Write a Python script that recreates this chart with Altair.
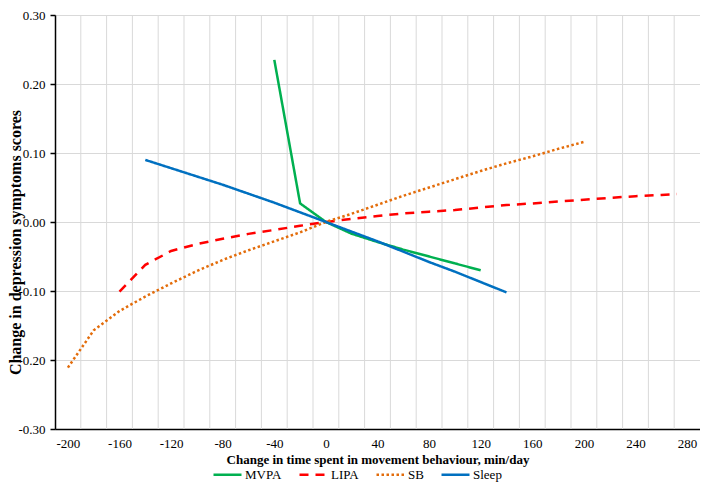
import altair as alt
import pandas as pd

# ---- data ----
series_names = ["MVPA", "LIPA", "SB", "Sleep"]

mvpa_x = [-40, -20, 0, 20, 40, 60, 80, 100, 120]
mvpa_y = [0.235, 0.027, 0.0, -0.017, -0.029, -0.040, -0.050, -0.060, -0.070]

lipa_x = [-160, -140, -120, -100, -80, -60, -40, -20, 0, 20, 40, 60, 80, 100,
          120, 140, 160, 180, 200, 220, 240, 260, 272]
lipa_y = [-0.101, -0.062, -0.042, -0.032, -0.0244, -0.0172, -0.0115, -0.0055, 0.0,
          0.0046, 0.0087, 0.0125, 0.015, 0.0173, 0.021, 0.0245, 0.0269, 0.0297,
          0.0323, 0.035, 0.0374, 0.0393, 0.0405]

sb_x = [-200, -180, -160, -140, -120, -100, -80, -60, -40, -20, 0, 20, 40, 60,
        80, 100, 120, 140, 160, 180, 200]
sb_y = [-0.211, -0.157, -0.129, -0.108, -0.089, -0.071, -0.055, -0.041, -0.028,
        -0.015, 0.0, 0.012, 0.025, 0.038, 0.050, 0.062, 0.074, 0.085, 0.095,
        0.106, 0.116]

sleep_x = [-140, -120, -100, -80, -60, -40, -20, 0, 20, 40, 60, 80, 100, 120, 140]
sleep_y = [0.090, 0.078, 0.066, 0.054, 0.041, 0.028, 0.014, 0.0, -0.014, -0.028,
           -0.043, -0.058, -0.072, -0.087, -0.102]

x_tick_labels = [-200, -160, -120, -80, -40, 0, 40, 80, 120, 160, 200, 240, 280]
x_grid = [-190, -170, -150, -130, -110, -90, -70, -50, -30, -10, 10, 30, 50, 70,
          90, 110, 130, 150, 170, 190, 210, 230, 250, 270]
y_ticks = [-0.3, -0.2, -0.1, 0.0, 0.1, 0.2, 0.3]

colors = ["#00B050", "#FF0000", "#E36C0A", "#0070C0"]
dashes = [[1, 0], [9, 7], [2.5, 2.5], [1, 0]]

rows = []
for name, xs, ys in [("MVPA", mvpa_x, mvpa_y), ("LIPA", lipa_x, lipa_y),
                     ("SB", sb_x, sb_y), ("Sleep", sleep_x, sleep_y)]:
    for i, (xv, yv) in enumerate(zip(xs, ys)):
        rows.append({"series": name, "x": xv, "y": yv, "i": i})
df = pd.DataFrame(rows)

FONT = "Liberation Serif"
x_scale = alt.Scale(domain=[-210, 290], nice=False, zero=False)
y_scale = alt.Scale(domain=[-0.3, 0.3], nice=False, zero=False)

x_axis = alt.Axis(
    values=x_tick_labels, grid=False, ticks=False, tickSize=0, labelPadding=8,
    domainColor="black", domainWidth=1.5, labelFlush=False,
    labelExpr="datum.value < 0 ? '-' + format(-datum.value, 'd') : format(datum.value, 'd')",
    labelFont=FONT, labelFontSize=13, labelColor="black",
    title="Change in time spent in movement behaviour, min/day",
    titleFont=FONT, titleFontSize=13, titleFontWeight="bold", titleColor="black",
    titleY=30, titleBaseline="middle")

grid = alt.Chart(pd.DataFrame({"gx": x_grid})).mark_rule(
    color="#D9D9D9", strokeWidth=1
).encode(x=alt.X("gx:Q", scale=x_scale, axis=x_axis))

legend = alt.Legend(
    title=None, orient="none", legendX=157, legendY=444, direction="horizontal",
    symbolType="stroke", symbolSize=784, symbolStrokeWidth=2.5,
    labelFont=FONT, labelFontSize=13, labelColor="black",
    columnPadding=12, labelOffset=2,
)

lines = alt.Chart(df).mark_line(strokeWidth=2.5).encode(
    x=alt.X("x:Q", scale=x_scale, axis=x_axis),
    y=alt.Y("y:Q", scale=y_scale, axis=alt.Axis(
        values=y_ticks, grid=True, gridColor="#D9D9D9", gridWidth=1,
        labelExpr="datum.value < 0 ? '-' + format(-datum.value, '.2f') : format(datum.value, '.2f')",
        tickColor="black", tickSize=5, tickWidth=1.5, domainColor="black", domainWidth=1.5,
        labelFont=FONT, labelFontSize=13, labelColor="black", labelPadding=5,
        title="Change in depression symptoms scores",
        titleFont=FONT, titleFontSize=16, titleFontWeight="bold", titleColor="black",
        titleX=-40, titleY=227, titleAngle=-90, titleAlign="center",
        titleBaseline="middle")),
    color=alt.Color("series:N", scale=alt.Scale(domain=series_names, range=colors),
                    legend=legend),
    strokeDash=alt.StrokeDash("series:N", scale=alt.Scale(domain=series_names, range=dashes),
                              legend=legend),
    order=alt.Order("i:Q"),
)

chart = alt.layer(grid, lines).properties(
    width=645, height=414,
    autosize=alt.AutoSizeParams(type="none"),
    padding={"left": 47, "top": 7, "right": 0, "bottom": 53},
).configure_view(stroke=None).configure(font=FONT)

chart.save("out.html", embed_options={"renderer": "svg", "actions": False})
